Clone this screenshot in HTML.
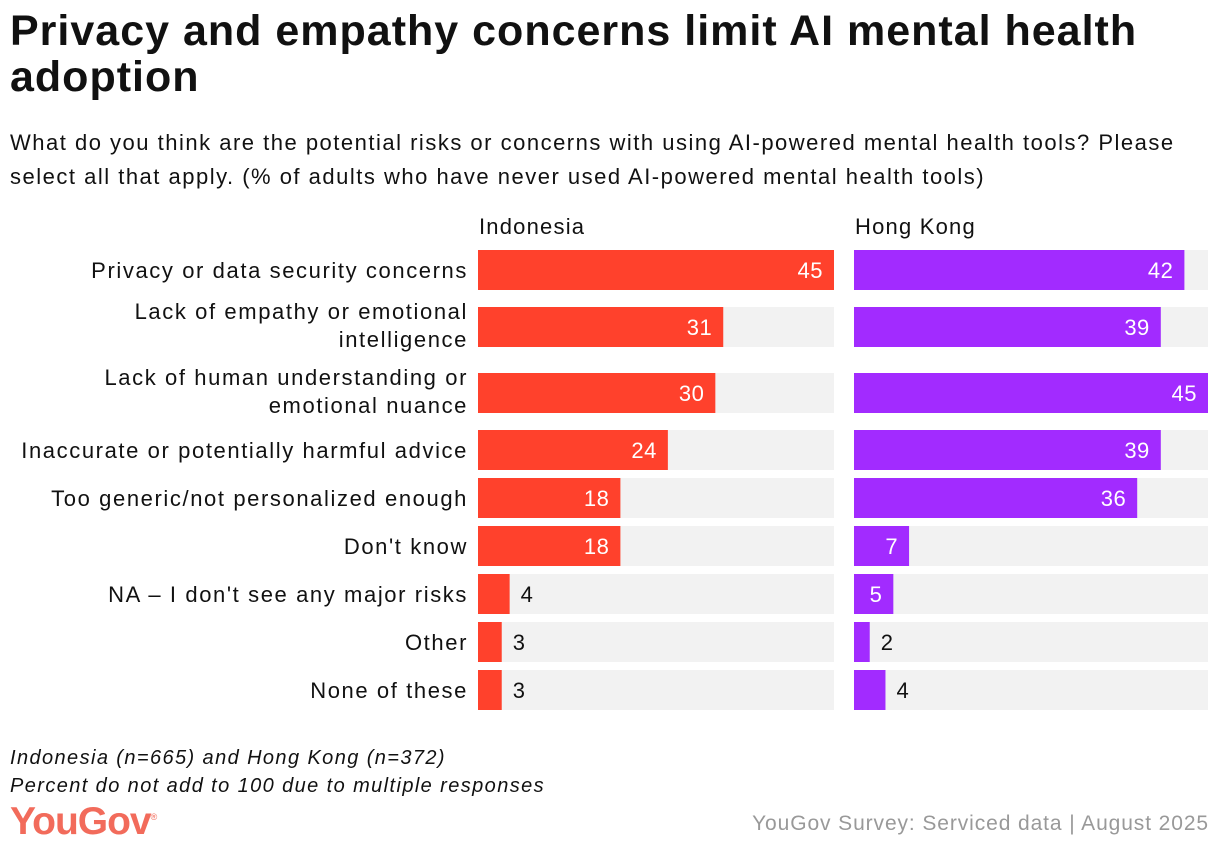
<!DOCTYPE html>
<html><head><meta charset="utf-8">
<style>
body{margin:0;width:1220px;height:854px;background:#fff;font-family:"Liberation Sans",sans-serif;color:#111;position:relative;overflow:hidden}
.t{position:absolute;white-space:nowrap}
</style></head><body>
<div class="t" style="left:10px;top:8px;font-size:43px;font-weight:bold;line-height:46px;letter-spacing:1px">Privacy and empathy concerns limit AI mental health<br>adoption</div>
<div class="t" style="left:10px;top:126px;font-size:22px;line-height:34px;letter-spacing:1.5px">What do you think are the potential risks or concerns with using AI-powered mental health tools? Please<br>select all that apply. (% of adults who have never used AI-powered mental health tools)</div>
<svg id="chart" width="1220" height="854" style="position:absolute;left:0;top:0" font-family="Liberation Sans, sans-serif"></svg>
<div class="t" style="left:10px;top:744px;font-size:20px;font-style:italic;line-height:28px;letter-spacing:1.4px">Indonesia (n=665) and Hong Kong (n=372)<br>Percent do not add to 100 due to multiple responses</div>
<div class="t" style="left:10px;top:800px;font-size:39px;font-weight:bold;color:#f26b5b;letter-spacing:-1px">YouGov<sup style="font-size:9px;font-weight:normal">®</sup></div>
<div class="t" style="right:11px;top:812px;font-size:21px;color:#999;letter-spacing:0.9px">YouGov Survey: Serviced data | August 2025</div>
<script>
const categories=[["Privacy or data security concerns"],["Lack of empathy or emotional","intelligence"],["Lack of human understanding or","emotional nuance"],["Inaccurate or potentially harmful advice"],["Too generic/not personalized enough"],["Don't know"],["NA – I don't see any major risks"],["Other"],["None of these"]];
const indonesia=[45,31,30,24,18,18,4,3,3];
const hongKong=[42,39,45,39,36,7,5,2,4];
const seriesNames=["Indonesia","Hong Kong"];
const maxVal=45;
const svg=document.getElementById('chart');
const NS='http://www.w3.org/2000/svg';
function mk(tag,attrs,txt){const e=document.createElementNS(NS,tag);for(const k in attrs)e.setAttribute(k,attrs[k]);if(txt!=null)e.textContent=txt;svg.appendChild(e);return e;}
const panels=[{x:478,w:356,color:'#ff412c',vals:indonesia},{x:854,w:354,color:'#a22bff',vals:hongKong}];
const barH=40;
let tops=[];let y=250;
for(let i=0;i<categories.length;i++){tops.push(y);y+=48+(categories[i].length>1?9:0)+(i+1<categories.length&&categories[i+1].length>1?9:0);}
panels.forEach((p,pi)=>{
  const h=mk('text',{x:p.x+1,y:234,'font-size':22,fill:'#111','letter-spacing':1.2},seriesNames[pi]);
  
  
  const sx=v=>v/maxVal*p.w;
  p.vals.forEach((v,i)=>{
    const tr=mk('rect',{x:p.x,y:tops[i],width:p.w,height:barH,fill:'#f2f2f2'});
    
    
    const r=mk('rect',{x:p.x,y:tops[i],width:sx(v),height:barH,fill:p.color});
    
    
    const inside=v>=5;
    const t=mk('text',{x:inside?p.x+sx(v)-11:p.x+sx(v)+11,y:tops[i]+28,'font-size':22,fill:inside?'#fff':'#111','text-anchor':inside?'end':'start','letter-spacing':0.5},v);
    
    
  });
});
categories.forEach((c,i)=>{
  c.forEach((line,j)=>{
    const ty=c.length>1?tops[i]+12+j*28:tops[i]+28;
    const t=mk('text',{x:468,y:ty,'font-size':22,fill:'#111','text-anchor':'end','letter-spacing':1.6},line);
    
    
  });
});
</script>
</body></html>
